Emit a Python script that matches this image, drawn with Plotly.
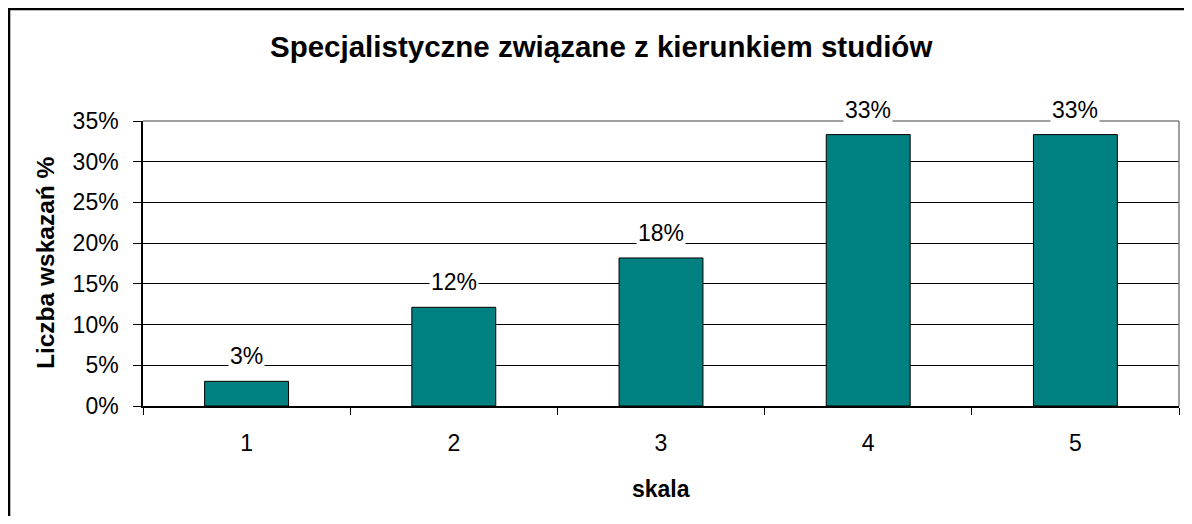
import plotly.graph_objects as go

categories = ["1", "2", "3", "4", "5"]
values = [3.03, 12.12, 18.18, 33.33, 33.33]
labels = ["3%", "12%", "18%", "33%", "33%"]
y_ticks = [0, 5, 10, 15, 20, 25, 30, 35]
y_tick_text = ["0%", "5%", "10%", "15%", "20%", "25%", "30%", "35%"]

FONT = "Arial, Liberation Sans, sans-serif"

fig = go.Figure()
fig.add_trace(go.Bar(
    x=categories, y=values, width=0.405,
    marker=dict(color="#008080", line=dict(color="black", width=1)),
    hoverinfo="skip",
))

# value labels with white box so the gridline is broken behind them
for i, (v, t) in enumerate(zip(values, labels)):
    fig.add_annotation(x=i, y=v, text=t, showarrow=False, xanchor="center",
                       yanchor="middle", yshift=25, bgcolor="white", borderpad=1,
                       font=dict(family=FONT, size=23, color="black"))

# title is centred on the whole chart box, not the plot area
fig.add_annotation(x=0.442, y=1.26, xref="paper", yref="paper", showarrow=False,
                   xanchor="center", yanchor="middle",
                   text="<b>Specjalistyczne związane z kierunkiem studiów</b>",
                   font=dict(family=FONT, size=29.5, color="black"))
fig.add_annotation(x=-0.0946, y=0.505, xref="paper", yref="paper", showarrow=False,
                   xanchor="center", yanchor="middle",
                   text="<b>Liczba wskazań %</b>", textangle=-90,
                   font=dict(family=FONT, size=24.5, color="black"))
fig.add_annotation(x=0.5, y=-0.291, xref="paper", yref="paper", showarrow=False,
                   xanchor="center", yanchor="middle",
                   text="<b>skala</b>",
                   font=dict(family=FONT, size=23, color="black"))

# outer chart border (right/bottom run off the page)
fig.add_shape(type="rect", xref="paper", yref="paper",
              x0=-0.1293, x1=1.03, y0=-0.45, y1=1.393,
              line=dict(color="black", width=2.5))
# gray plot-area border on top and right
fig.add_shape(type="line", xref="paper", yref="paper", x0=0, x1=1, y0=1, y1=1,
              line=dict(color="#808080", width=1.5))
fig.add_shape(type="line", xref="paper", yref="paper", x0=1, x1=1, y0=0, y1=1,
              line=dict(color="#808080", width=1.5))

fig.update_layout(
    width=1176, height=508,
    margin=dict(l=135, r=5, t=113, b=110),
    paper_bgcolor="white", plot_bgcolor="white",
    showlegend=False,
    font=dict(family=FONT, size=23, color="black"),
)
fig.update_xaxes(type="category", range=[-0.5, 4.5], tickson="boundaries",
                 ticks="outside", ticklen=7, tickcolor="black", showline=True,
                 linecolor="black", linewidth=1.5, showgrid=False,
                 ticklabelstandoff=16, tickfont=dict(family=FONT, size=23))
fig.update_yaxes(range=[0, 35], tickvals=y_ticks, ticktext=y_tick_text,
                 ticks="outside", ticklen=8, tickcolor="black", showline=True,
                 linecolor="black", linewidth=1.5, showgrid=True,
                 gridcolor="black", gridwidth=1, zeroline=False,
                 ticklabelstandoff=10, tickfont=dict(family=FONT, size=23))

fig.write_html("out.html")
